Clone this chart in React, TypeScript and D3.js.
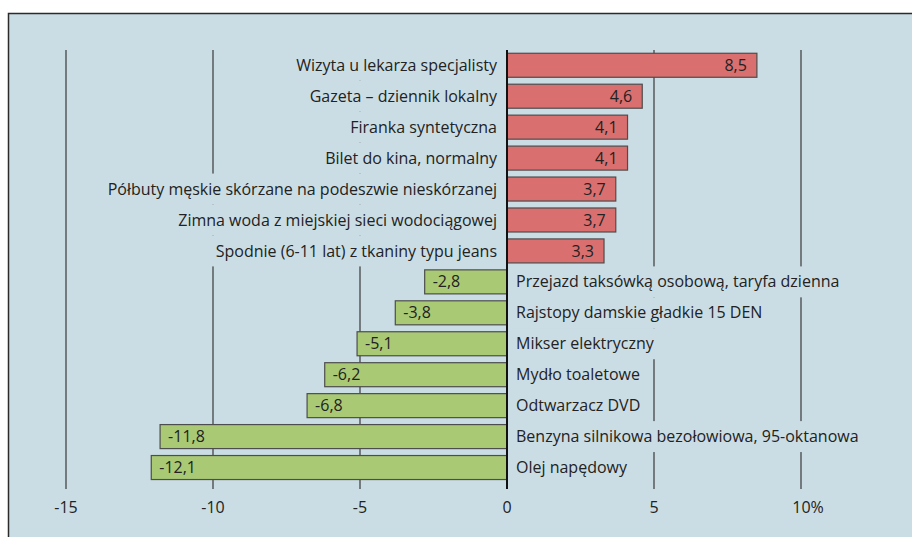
import { useEffect, useRef } from "react";
import * as d3 from "d3";

const categories = [
  "Wizyta u lekarza specjalisty",
  "Gazeta – dziennik lokalny",
  "Firanka syntetyczna",
  "Bilet do kina, normalny",
  "Półbuty męskie skórzane na podeszwie nieskórzanej",
  "Zimna woda z miejskiej sieci wodociągowej",
  "Spodnie (6-11 lat) z tkaniny typu jeans",
  "Przejazd taksówką osobową, taryfa dzienna",
  "Rajstopy damskie gładkie 15 DEN",
  "Mikser elektryczny",
  "Mydło toaletowe",
  "Odtwarzacz DVD",
  "Benzyna silnikowa bezołowiowa, 95-oktanowa",
  "Olej napędowy",
];
const values = [8.5, 4.6, 4.1, 4.1, 3.7, 3.7, 3.3, -2.8, -3.8, -5.1, -6.2, -6.8, -11.8, -12.1];
const tickValues = [-15, -10, -5, 0, 5, 10];
const tickLabels = ["-15", "-10", "-5", "0", "5", "10%"];

const W = 912;
const H = 537;
const BG = "#cbdde4";
const FONT = "'Open Sans', sans-serif";
const FS = 16;

export default function App() {
  const svgRef = useRef<SVGSVGElement>(null);

  useEffect(() => {
    const svg = d3.select(svgRef.current);
    svg.selectAll("*").remove();

    const x = d3.scaleLinear().domain([-15, 10]).range([66, 801]);
    const y = d3.scaleBand<string>()
      .domain(categories)
      .range([49.8, 483])
      .paddingInner(0.224)
      .paddingOuter(0.112);
    const step = y.step();
    const gridTop = 50;
    const gridBottom = 489;

    // panel
    svg.append("rect")
      .attr("x", 8).attr("y", 13)
      .attr("width", W).attr("height", H)
      .attr("fill", BG);
    svg.append("path")
      .attr("d", `M8.5,${H} V13.5 H${W}`)
      .attr("fill", "none")
      .attr("stroke", "#2b2b2b")
      .attr("stroke-width", 1.5);

    // grid
    svg.append("g")
      .selectAll("line")
      .data(tickValues.filter(t => t !== 0))
      .join("line")
      .attr("x1", d => x(d)).attr("x2", d => x(d))
      .attr("y1", gridTop).attr("y2", gridBottom)
      .attr("stroke", "#3a3a3a")
      .attr("stroke-width", 1.2);

    // category labels, each on a box of background colour that hides the grid
    const lab = svg.append("g")
      .selectAll("g")
      .data(categories)
      .join("g");
    lab.append("rect").attr("fill", BG);
    lab.append("text")
      .attr("x", (_, i) => (values[i] >= 0 ? x(0) - 10 : x(0) + 9))
      .attr("y", d => (y(d) as number) + y.bandwidth() / 2)
      .attr("dy", "0.35em")
      .attr("text-anchor", (_, i) => (values[i] >= 0 ? "end" : "start"))
      .attr("font-family", FONT)
      .attr("font-size", FS)
      .attr("fill", "#222")
      .text(d => d);
    lab.each(function (d) {
      const g = d3.select(this);
      const b = g.select<SVGTextElement>("text").node()!.getBBox();
      const cy = (y(d) as number) + y.bandwidth() / 2;
      g.select("rect")
        .attr("x", b.x - 4)
        .attr("width", b.width + 8)
        .attr("y", cy - step / 2)
        .attr("height", step);
    });

    // bars
    svg.append("g")
      .selectAll("rect")
      .data(categories)
      .join("rect")
      .attr("x", (_, i) => Math.min(x(0), x(values[i])))
      .attr("width", (_, i) => Math.abs(x(values[i]) - x(0)))
      .attr("y", d => y(d) as number)
      .attr("height", y.bandwidth())
      .attr("fill", (_, i) => (values[i] >= 0 ? "#d96f6e" : "#a9c975"))
      .attr("stroke", "#4d4d4d")
      .attr("stroke-width", 1.2);

    // value labels
    svg.append("g")
      .selectAll("text")
      .data(categories)
      .join("text")
      .attr("x", (_, i) => (values[i] >= 0 ? x(values[i]) - 10 : x(values[i]) + 8))
      .attr("y", d => (y(d) as number) + y.bandwidth() / 2)
      .attr("dy", "0.35em")
      .attr("text-anchor", (_, i) => (values[i] >= 0 ? "end" : "start"))
      .attr("font-family", FONT)
      .attr("font-size", FS)
      .attr("fill", "#222")
      .text((_, i) => values[i].toFixed(1).replace(".", ","));

    // zero line
    svg.append("line")
      .attr("x1", x(0)).attr("x2", x(0))
      .attr("y1", gridTop).attr("y2", gridBottom)
      .attr("stroke", "#111")
      .attr("stroke-width", 2);

    // axis labels
    svg.append("g")
      .selectAll("text")
      .data(tickValues)
      .join("text")
      .attr("x", (d, i) => x(d) + (i === tickValues.length - 1 ? 7 : 0))
      .attr("y", 507)
      .attr("dy", "0.35em")
      .attr("text-anchor", "middle")
      .attr("font-family", FONT)
      .attr("font-size", FS)
      .attr("fill", "#222")
      .text((_, i) => tickLabels[i]);
  }, []);

  return (
    <svg
      ref={svgRef}
      width={W}
      height={H}
      style={{ position: "absolute", left: 0, top: 0, display: "block" }}
    />
  );
}
